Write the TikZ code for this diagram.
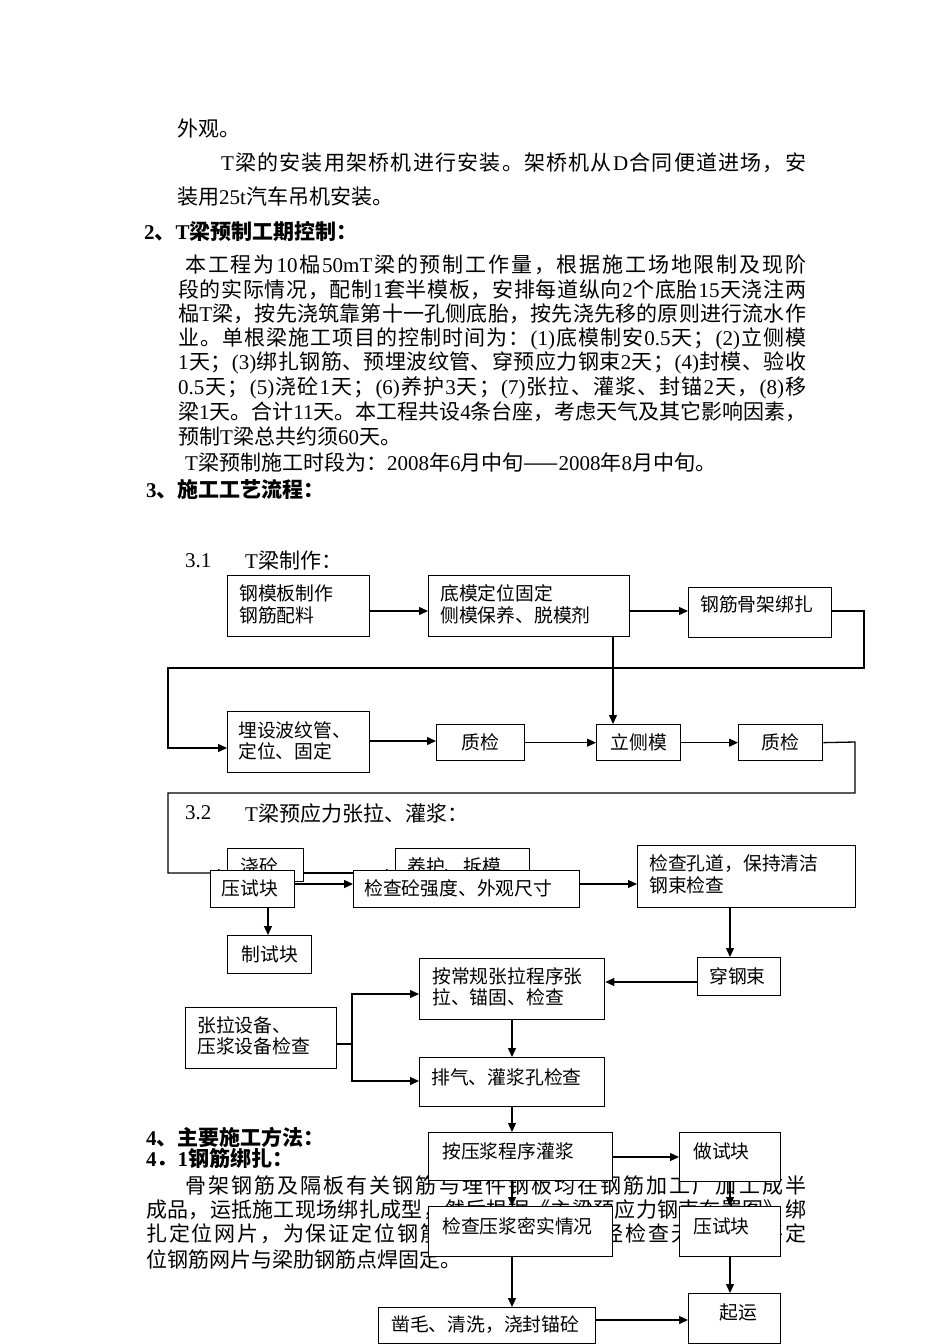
\documentclass[tikz,border=0pt]{standalone}
\usepackage{fontspec}
\setmainfont{Liberation Serif}
\newfontfamily\cjk{Noto Sans CJK SC}
\newfontfamily\lat{Liberation Serif}
\newcommand\LT[1]{{\lat #1}}
\def\jloop#1{\ifx\relax#1\unskip\else#1\hskip0pt plus 1fil minus 0.6pt\expandafter\jloop\fi}
\newcommand\jline[2]{\makebox[#1][s]{\jloop#2\relax}}
\usetikzlibrary{arrows.meta}
\pgfdeclarelayer{bg}\pgfdeclarelayer{fg}\pgfsetlayers{bg,main,fg}
\tikzset{
 body/.style={anchor=west, inner sep=0pt, font=\cjk\fontsize{21}{24}\selectfont},
 head/.style={anchor=west, inner sep=0pt, font=\cjk\bfseries\fontsize{21}{24}\selectfont},
 box/.style={draw, line width=1.3pt, fill=white, inner sep=0pt, anchor=north west},
 btxt/.style={anchor=west, inner sep=0pt, font=\cjk\fontsize{18.8}{22}\selectfont},
 ctxt/.style={btxt, anchor=center},
 conn/.style={line width=1.3pt},
 arr/.style={conn, -{Triangle[length=9pt,width=8pt]}},
}
\begin{document}
\begin{tikzpicture}[x=1pt,y=-1pt]
\useasboundingbox (0,0) rectangle (950,1344);
\begin{pgfonlayer}{bg}
\fill[white] (0,0) rectangle (950,1344);
% page text
\node[body] (l1) at (177,128) {外观。};
\node[body] (l2) at (221,163) {\jline{585pt}{{\LT{T}}梁的安装用架桥机进行安装。架桥机从{\LT{D}}合同便道进场，安}};
\node[body] (l3) at (177,197) {装用\LT{25t}汽车吊机安装。};
\node[head] (h2) at (144,232) {\LT{2}、\LT{T}梁预制工期控制：};
\node[body] (p1) at (185,265) {\jline{621pt}{本工程为{\LT{10}}榀{\LT{50mT}}梁的预制工作量，根据施工场地限制及现阶}};
\node[body] (p2) at (178,290) {\jline{628pt}{段的实际情况，配制{\LT{1}}套半模板，安排每道纵向{\LT{2}}个底胎{\LT{15}}天浇注两}};
\node[body] (p3) at (178,314) {\jline{628pt}{榀{\LT{T}}梁，按先浇筑靠第十一孔侧底胎，按先浇先移的原则进行流水作}};
\node[body] (p4) at (178,339) {\jline{628pt}{业。单根梁施工项目的控制时间为：{\LT{(1)}}底模制安{\LT{0.5}}天；{\LT{(2)}}立侧模}};
\node[body] (p5) at (178,363) {\jline{628pt}{{\LT{1}}天；{\LT{(3)}}绑扎钢筋、预埋波纹管、穿预应力钢束{\LT{2}}天；{\LT{(4)}}封模、验收}};
\node[body] (p6) at (178,388) {\jline{628pt}{{\LT{0.5}}天；{\LT{(5)}}浇砼{\LT{1}}天；{\LT{(6)}}养护{\LT{3}}天；{\LT{(7)}}张拉、灌浆、封锚{\LT{2}}天，{\LT{(8)}}移}};
\node[body] (p7) at (178,412) {\jline{628pt}{梁{\LT{1}}天。合计{\LT{11}}天。本工程共设{\LT{4}}条台座，考虑天气及其它影响因素，}};
\node[body] (p8) at (178,437) {预制\LT{T}梁总共约须\LT{60}天。};
\node[body] (p9) at (185,462) {\LT{T}梁预制施工时段为：\LT{2008}年\LT{6}月中旬——\LT{2008}年\LT{8}月中旬。};
\node[head] (h3) at (146,489) {\LT{3}、施工工艺流程：};
\node[body] (s31) at (185,561) {\LT{3.1}};
\node[body] (s31b) at (245,561) {\LT{T}梁制作：};
\node[body] (s32) at (185,813) {\LT{3.2}};
\node[body] (s32b) at (245,813) {\LT{T}梁预应力张拉、灌浆：};
\node[head] (h4) at (146,1137) {\LT{4}、主要施工方法：};
\node[head] (h41) at (146,1158) {\LT{4}．\LT{1}钢筋绑扎：};
\node[body] (q1) at (185,1186) {\jline{621pt}{骨架钢筋及隔板有关钢筋与埋件钢板均在钢筋加工厂加工成半}};
\node[body] (q2) at (146,1210) {\jline{660pt}{成品，运抵施工现场绑扎成型，然后根据《主梁预应力钢束布置图》绑}};
\node[body] (q3) at (146,1234) {\jline{660pt}{扎定位网片，为保证定位钢筋网片位置准确，经检查无误后再将定}};
\node[body] (q4) at (146,1259) {位钢筋网片与梁肋钢筋点焊固定。};
% hidden boxes
\node[box, minimum width=76pt, minimum height=33pt] (JT) at (227,848) {};
\node[btxt] (JTt) at (240,866) {浇砼};
\node[box, minimum width=134pt, minimum height=33pt] (YH) at (395,848) {};
\node[btxt] (YHt) at (407,866) {养护、拆模};
\end{pgfonlayer}

\begin{pgfonlayer}{fg}
\node[box, minimum width=142pt, minimum height=61pt] (A) at (227,575) {};
\node[btxt] (At1) at (239,593) {钢模板制作};
\node[btxt] (At2) at (239,615) {钢筋配料};
\node[box, minimum width=201pt, minimum height=61pt] (B) at (428,575) {};
\node[btxt] (Bt1) at (440,593) {底模定位固定};
\node[btxt] (Bt2) at (440,615) {侧模保养、脱模剂};
\node[box, minimum width=143pt, minimum height=50pt] (C) at (688,587) {};
\node[btxt] (Ct) at (700,604) {钢筋骨架绑扎};
\node[box, minimum width=142pt, minimum height=61pt] (D) at (227,711) {};
\node[btxt] (Dt1) at (238,730) {埋设波纹管、};
\node[btxt] (Dt2) at (238,751) {定位、固定};
\node[box, minimum width=88pt, minimum height=36pt] (Q1) at (436,724) {};
\node[ctxt] (Q1t) at (Q1.center) {质检};
\node[box, minimum width=84pt, minimum height=36pt] (L) at (596,724) {};
\node[ctxt] (Lt) at (L.center) {立侧模};
\node[box, minimum width=84pt, minimum height=36pt] (Q2) at (738,724) {};
\node[ctxt] (Q2t) at (Q2.center) {质检};
\node[box, minimum width=84pt, minimum height=37pt] (YS1) at (210,870) {};
\node[ctxt] (YS1t) at (250,888) {压试块};
\node[box, minimum width=226pt, minimum height=37pt] (JC) at (353,870) {};
\node[btxt] (JCt) at (364,888) {检查砼强度、外观尺寸};
\node[box, minimum width=218pt, minimum height=62pt] (KD) at (637,845) {};
\node[btxt] (KDt1) at (649,864) {检查孔道，保持清洁};
\node[btxt] (KDt2) at (649,885) {钢束检查};
\node[box, minimum width=84pt, minimum height=38pt] (ZS) at (227,935) {};
\node[ctxt] (ZSt) at (ZS.center) {制试块};
\node[box, minimum width=83pt, minimum height=38pt] (CGS) at (697,957) {};
\node[btxt] (CGSt) at (709,976) {穿钢束};
\node[box, minimum width=185pt, minimum height=61pt] (ZL) at (419,958) {};
\node[btxt] (ZLt1) at (432,976) {按常规张拉程序张};
\node[btxt] (ZLt2) at (432,997) {拉、锚固、检查};
\node[box, minimum width=151pt, minimum height=61pt] (SB) at (185,1007) {};
\node[btxt] (SBt1) at (197,1025) {张拉设备、};
\node[btxt] (SBt2) at (197,1046) {压浆设备检查};
\node[box, minimum width=185pt, minimum height=49pt] (PQ) at (419,1057) {};
\node[btxt] (PQt) at (431,1077) {排气、灌浆孔检查};
\node[box, minimum width=184pt, minimum height=48pt] (AY) at (428,1132) {};
\node[btxt] (AYt) at (442,1151) {按压浆程序灌浆};
\node[box, minimum width=101pt, minimum height=49pt] (ZSK) at (679,1132) {};
\node[btxt] (ZSKt) at (693,1151) {做试块};
\node[box, minimum width=184pt, minimum height=50pt] (JCY) at (428,1206) {};
\node[btxt] (JCYt) at (442,1226) {检查压浆密实情况};
\node[box, minimum width=101pt, minimum height=50pt] (YS2) at (679,1206) {};
\node[btxt] (YS2t) at (693,1226) {压试块};
\node[box, minimum width=217pt, minimum height=36pt] (ZM) at (378,1307) {};
\node[btxt] (ZMt) at (391,1325) {凿毛、清洗，浇封锚砼};
\node[box, minimum width=92pt, minimum height=50pt] (QY) at (688,1293) {};
\node[btxt] (QYt) at (719,1312) {起运};
\end{pgfonlayer}

% connectors
\draw[arr] (A.east |- 0,611) -- (B.west |- 0,611);
\draw[arr] (B.east |- 0,611) -- (C.west |- 0,611);
\draw[arr] (C.east |- 0,611) -- (864,611) -- (864,668) -- (168,668) -- (168,748) -- (D.west |- 0,748);
\draw[arr] (B.south -| 613,0) -- (L.north -| 613,0);
\draw[arr] (D.east |- 0,741) -- (Q1.west |- 0,741);
\draw[arr] (Q1.east) -- (L.west);
\draw[arr] (L.east) -- (Q2.west);
\draw[arr] (Q2.east) -- (855,742) -- (855,793) -- (168,793) -- (168,873) -- (JT.west |- 0,873);
\draw[arr] (JT.east |- 0,873) -- (YH.west |- 0,873);
\draw[arr] (YS1.east |- 0,884) -- (JC.west |- 0,884);
\draw[arr] (JC.east |- 0,884) -- (KD.west |- 0,884);
\draw[arr] (YS1.south -| 268,0) -- (ZS.north -| 268,0);
\draw[arr] (KD.south -| 730,0) -- (CGS.north -| 730,0);
\draw[arr] (CGS.west |- 0,982) -- (ZL.east |- 0,982);
\draw[conn] (SB.east |- 0,1044) -- (352,1044);
\draw[arr] (352,1044) |- (ZL.west |- 0,994);
\draw[arr] (352,1044) |- (PQ.west |- 0,1081);
\draw[arr] (ZL.south -| 512,0) -- (PQ.north -| 512,0);
\draw[arr] (PQ.south -| 512,0) -- (AY.north -| 512,0);
\draw[arr] (AY.east |- 0,1157) -- (ZSK.west |- 0,1157);
\draw[arr] (AY.south -| 512,0) -- (JCY.north -| 512,0);
\draw[arr] (ZSK.south -| 730,0) -- (YS2.north -| 730,0);
\draw[arr] (JCY.south -| 512,0) -- (ZM.north -| 512,0);
\draw[arr] (YS2.south -| 730,0) -- (QY.north -| 730,0);
\draw[arr] (ZM.east |- 0,1320) -- (QY.west |- 0,1320);
\end{tikzpicture}
\end{document}
